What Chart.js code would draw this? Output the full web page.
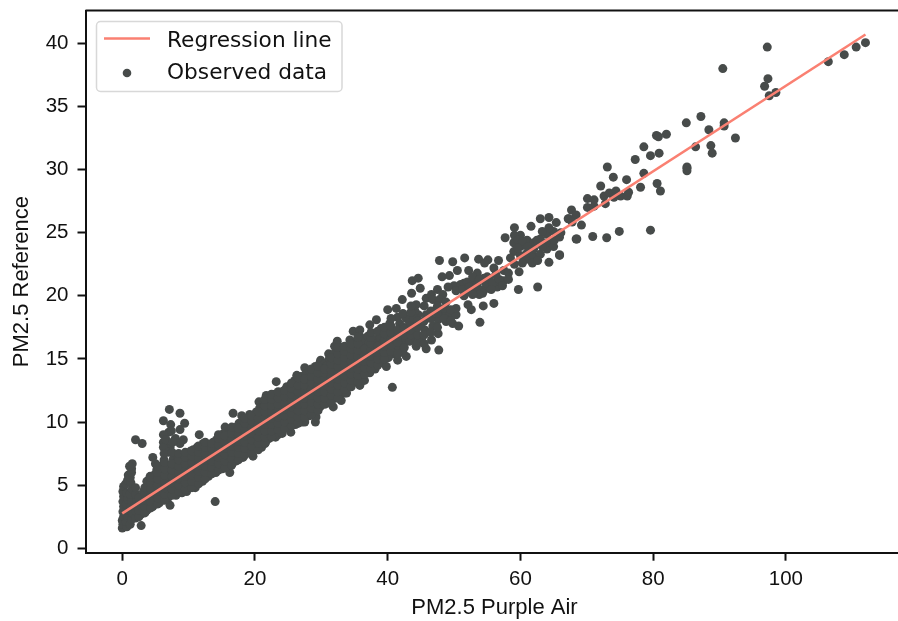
<!DOCTYPE html>
<html>
<head>
<meta charset="utf-8">
<title>PM2.5 regression</title>
<script src="https://cdn.jsdelivr.net/npm/chart.js@4"></script>
<style>
  html, body { margin: 0; padding: 0; background: #fff; overflow: hidden; }
  #wrap { width: 898px; height: 621px; overflow: hidden; }
</style>
</head>
<body>
<div id="wrap"><canvas id="grafico" width="908" height="621"></canvas></div>
<script>
var xTicks = [0, 20, 40, 60, 80, 100];
var yTicks = [0, 5, 10, 15, 20, 25, 30, 35, 40];

var regressionLine = [[0, 2.77], [112, 40.7]];

// left to right: [PM2.5 Purple Air, PM2.5 Reference]
var observedLow = [
  [0.0,1.6],[0.1,1.9],[0.0,2.2],[0.2,2.5],[0.1,2.9],[0.2,3.3],[0.1,3.7],[0.2,4.1],[0.1,4.5],[0.2,4.9],
  [0.7,1.7],[0.6,2.1],[0.8,2.5],[0.7,3.0],[0.6,3.5],[0.8,3.9],[0.7,4.4],[0.5,5.1],[0.8,5.4],[0.9,5.8],
  [1.2,1.9],[1.4,2.3],[1.5,2.8],[1.3,3.3],[1.4,3.8],[1.2,4.3],[1.5,4.7],[1.3,5.2],[1.2,5.6],[1.4,6.0],[1.4,6.3],[1.5,6.7],[1.1,6.5],
  [2.0,2.4],[2.1,2.9],[1.9,3.4],[2.2,3.8],[2.0,4.3],[2.0,4.8],[2.85,1.8],[2.0,8.6],[3.0,8.3],
  [2.8,2.7],[3.0,3.2],[3.1,3.7],[2.9,4.1],[3.2,4.5],
  [3.7,3.0],[3.8,3.5],[4.0,4.0],[3.8,4.5],[4.0,5.0],[3.7,5.3],[4.2,5.7],
  [4.6,3.3],[4.8,3.8],[5.0,4.3],[4.7,4.8],[5.0,5.3],[4.8,5.8],[5.2,6.2],[4.6,7.2],[5.0,6.7],
  [5.6,3.6],[5.8,4.1],[6.0,4.6],[5.7,5.1],[6.1,5.6],[5.8,6.1],[6.1,6.6],[6.3,7.0],
  [6.2,10.1],[7.1,11.0],[8.7,10.7],[7.3,9.8],[9.4,9.9],[8.7,9.4],[7.0,9.2],[6.2,9.0],[6.2,8.4],[8.0,8.7],
  [9.2,8.6],[8.7,8.3],[7.2,8.0],[6.2,8.0],[6.6,8.6],[7.6,8.4],[7.4,9.3],[6.9,7.6],[6.3,7.5],
  [7.2,3.4],[6.9,4.0],[7.1,4.5],[6.8,5.0],[7.2,5.5],[6.9,6.0],[7.1,6.5],[7.7,7.1],
  [8.1,4.2],[7.9,4.7],[8.2,5.2],[7.8,5.7],[8.1,6.2],[7.9,6.7],[8.2,7.4],[8.7,7.0],
  [9.0,4.4],[9.2,4.9],[8.9,5.4],[9.2,5.9],[8.9,6.4],[9.1,6.9],[9.3,7.4],
  [9.7,4.5],[10.1,5.0],[9.9,5.5],[10.2,6.0],[9.8,6.5],[10.1,7.0],[9.9,7.5],[10.3,7.7],
  [11.0,4.8],[11.1,5.4],[10.9,5.9],[11.2,6.4],[10.9,6.9],[11.1,7.4],[10.7,7.8],[11.6,9.0],[11.3,8.0],
  [12.1,5.3],[11.9,5.8],[12.2,6.3],[11.9,6.8],[12.1,7.3],[11.9,7.8],[12.2,8.3],
  [13.0,5.7],[13.1,6.2],[12.9,6.7],[13.2,7.2],[12.9,7.7],[13.1,8.2],[13.7,8.4],[14.0,3.7],
  [14.1,6.0],[13.9,6.5],[14.2,7.0],[13.9,7.5],[14.1,8.0],[14.2,8.6],
  [15.1,6.3],[14.9,6.8],[15.2,7.3],[14.9,7.8],[15.1,8.3],[14.9,8.8],[15.5,9.6],[15.3,9.1],
  [16.2,6.0],[16.0,6.6],[16.1,7.1],[15.9,7.6],[16.2,8.1],[15.9,8.6],[16.1,9.1],[16.7,10.7],[16.4,9.5],
  [17.1,6.9],[16.9,7.4],[17.2,7.9],[16.9,8.4],[17.1,8.9],[16.9,9.4],[17.2,9.6],[17.6,9.9],
  [18.2,7.2],[18.0,7.7],[18.1,8.2],[17.9,8.7],[18.2,9.2],[17.9,9.7],[18.2,10.1],[18.0,10.5],
  [18.8,8.0],[19.1,7.6],[19.0,8.5],[19.2,9.0],[18.9,9.5],[19.1,10.0],[19.2,10.6]
];

var observedMid = [
  [19.7,7.3],[20.1,7.9],[19.9,8.4],[20.2,8.9],[19.9,9.4],[20.1,9.9],[19.9,10.4],[20.2,10.8],[20.6,11.6],[20.7,11.1],
  [21.0,8.0],[21.1,8.6],[20.9,9.1],[21.2,9.6],[20.9,10.1],[21.1,10.6],[21.7,12.1],[21.3,11.2],
  [21.6,8.4],[22.1,8.7],[21.9,9.2],[22.2,9.7],[21.9,10.2],[22.1,10.7],[21.9,11.2],[22.2,11.7],
  [23.1,8.8],[23.5,9.0],[22.9,9.4],[23.2,9.9],[22.9,10.4],[23.1,10.9],[22.9,11.4],[23.2,11.9],[23.2,13.2],[23.0,12.2],
  [24.1,9.1],[23.9,9.7],[24.2,10.2],[23.9,10.7],[24.1,11.2],[23.9,11.7],[24.2,12.2],[24.8,12.8],[24.4,12.5],
  [25.4,9.2],[25.0,9.6],[25.1,10.1],[24.9,10.6],[25.2,11.1],[24.9,11.6],[25.1,12.1],[25.3,12.6],[25.6,13.0],
  [26.1,9.8],[25.9,10.3],[26.2,10.8],[25.9,11.3],[26.1,11.8],[25.9,12.3],[26.2,12.8],[26.3,13.7],[26.0,13.3],
  [27.1,10.0],[27.5,10.0],[26.9,10.6],[27.2,11.1],[26.9,11.6],[27.1,12.1],[26.9,12.6],[27.2,13.1],[26.9,13.6],[27.5,14.3],[27.6,13.8],
  [28.2,10.5],[27.9,11.0],[28.1,11.5],[27.9,12.0],[28.2,12.5],[27.9,13.0],[28.1,13.5],[28.2,14.1],[28.3,11.1],[28.8,13.9],
  [29.1,10.0],[29.2,10.4],[29.0,10.9],[29.2,11.4],[28.9,11.9],[29.1,12.4],[28.9,12.9],[29.2,13.4],[28.9,13.9],[29.1,14.4],[29.9,14.9],[29.8,14.7],
  [29.8,11.2],[30.1,11.7],[29.9,12.2],[30.2,12.7],[29.9,13.2],[30.1,13.7],[29.9,14.2],[30.5,14.6],
  [31.0,12.0],[31.1,11.5],[30.9,12.5],[31.2,13.0],[30.9,13.5],[31.1,14.0],[30.9,14.5],[31.1,15.4],[31.2,15.0],
  [31.8,11.2],[32.1,11.9],[31.9,12.4],[32.2,12.9],[31.9,13.4],[32.1,13.9],[31.9,14.4],[32.2,14.9],[31.9,15.4],[32.0,16.0],[32.4,16.4],
  [33.0,11.7],[33.5,12.3],[32.9,12.4],[33.2,12.9],[32.9,13.4],[33.1,13.9],[32.9,14.4],[33.2,14.9],[32.9,15.4],[33.1,15.9],
  [33.8,12.3],[34.1,12.9],[33.9,13.4],[34.2,13.9],[33.9,14.4],[34.1,14.9],[33.9,15.4],[34.2,15.9],[34.3,16.5],[34.8,17.2],
  [34.8,13.1],[35.1,13.5],[34.9,14.0],[35.2,14.5],[34.9,15.0],[35.1,15.5],[34.9,16.0],[35.0,16.2],[35.8,17.3],[35.8,16.8],[35.8,12.9],
  [36.5,13.3],[36.1,13.8],[35.9,14.3],[36.2,14.8],[35.9,15.3],[36.1,15.8],[36.5,16.4],
  [37.3,13.9],[37.1,14.4],[36.9,14.9],[37.2,15.4],[36.9,15.9],[37.0,16.8],[37.3,17.7],[37.2,16.3],
  [38.1,14.2],[37.9,14.7],[38.2,15.2],[37.9,15.7],[38.1,16.2],[38.5,16.6],[38.3,18.1],
  [39.3,14.7],[39.8,14.4],[39.1,15.2],[38.9,15.7],[39.2,16.2],[39.0,17.4],[39.3,17.0],[38.9,16.7],
  [40.8,15.4],[40.1,15.1],[39.9,15.7],[40.2,16.2],[39.9,16.7],[40.0,17.2],[40.3,17.8],[40.0,18.9],[40.7,12.75],
  [41.5,14.9],[41.8,16.0],[41.1,15.9],[41.3,16.5],[41.1,17.0],[41.8,17.8],[41.3,19.0],[41.5,18.3],
  [42.8,15.2],[42.3,15.5],[42.8,16.5],[42.2,16.4],[42.7,17.0],[42.3,17.5],[43.3,17.8],[42.8,18.2],[42.3,18.6],[42.2,19.7],
  [43.8,17.0],[43.3,16.4],[44.3,16.0],[44.1,16.7],[44.0,17.4],[44.6,18.5],[44.1,18.8],[44.3,19.3],[43.6,20.2],[44.9,20.6],[43.7,21.2],[44.6,21.4],[43.9,18.2],
  [45.1,16.6],[45.8,15.8],[45.6,17.3],[45.1,17.8],[45.8,18.5],[45.8,19.8],[46.6,20.1],[46.8,19.7],[47.5,20.5],[48.3,20.1],[47.8,19.7],[48.8,19.5],
  [46.6,16.5],[46.8,17.6],[47.6,17.0],[47.7,15.7],[47.6,18.1],[47.3,18.9],[48.3,18.6],[48.8,17.96],[49.3,18.5],[49.8,17.8],[50.7,17.6],[50.3,18.5],[50.3,19.0]
];

var observedHigh = [
  [47.8,22.8],[49.8,22.7],[51.6,23.0],[53.7,22.9],[55.1,22.85],[56.7,22.8],[54.6,22.6],[56.0,22.2],[52.2,22.0],[50.5,22.0],[49.3,21.6],[48.2,21.5],
  [52.8,21.5],[53.8,21.3],[54.8,21.0],[55.8,21.0],[56.8,21.3],[56.3,21.7],[57.3,20.8],
  [49.1,20.7],[50.3,20.4],[51.3,20.5],[52.3,20.7],[53.3,20.5],[54.3,20.2],[55.6,20.5],[53.8,20.1],[52.8,20.1],
  [52.1,19.3],[52.6,18.9],[54.4,19.2],[56.0,19.4],[53.9,17.9],
  [59.1,25.4],[59.1,24.8],[57.7,24.6],[59.6,24.4],[60.3,24.3],[61.6,25.5],[63.0,26.1],[64.3,26.2],[65.4,25.8],[64.3,25.4],[63.3,25.1],[62.5,24.4],[65.1,24.4],
  [59.6,23.8],[61.1,23.9],[63.3,23.9],[58.5,23.0],[59.1,22.5],[60.3,22.6],[61.8,22.6],[62.6,22.8],[64.3,22.65],[65.9,23.25],[59.8,21.9],[58.2,21.8],[58.2,21.3],[59.7,20.5],[62.6,20.7],
  [65.9,24.65],[65.9,23.2],[66.1,25.0],[67.2,26.1],[67.7,26.8],[68.4,26.4],[67.3,26.1],[67.8,25.85],[69.2,25.6],[68.4,24.5],[68.5,24.5],[70.9,24.7],[73.0,24.6],[74.9,25.1],[79.6,25.2],
  [70.1,27.7],[71.1,27.6],[70.1,27.0],[71.1,27.1],[72.1,28.7],[72.6,27.9],[72.8,27.3],[73.4,28.15],[74.4,28.3],[74.1,27.8],[75.1,27.9],[76.1,27.9],[76.3,28.2],[73.1,30.2],[74.0,29.4],[76.0,29.2],
  [77.3,30.8],[78.6,31.8],[78.6,29.7],[78.1,28.6],[79.6,31.1],[80.5,32.7],[80.8,32.6],[80.9,31.3],[80.6,28.9],[81.1,28.3],[82.0,32.8],
  [85.0,33.7],[85.1,30.2],[85.1,30.1],[85.1,29.9],[86.4,31.8],[87.2,34.2],[88.4,33.15],[88.7,31.9],[88.9,31.3],[90.5,38.0],[90.7,33.7],[90.7,33.45],[92.4,32.5],
  [96.8,36.6],[97.2,39.7],[97.3,37.2],[97.5,35.85],[98.5,36.1],[106.4,38.55],[108.8,39.1],[110.6,39.7],[112.0,40.05]
];

// the solid part of the cloud, estimated column by column: [x, [y, y, ...]]
var observedDense = [
  [2.5,[2.5,3.0,3.5,4.0]],
  [3.4,[2.8,3.3,3.8,4.3,4.8]],
  [4.3,[3.2,3.7,4.2,4.7,5.2,5.6]],
  [5.3,[3.5,4.0,4.5,5.0,5.5,6.0,6.5]],
  [6.4,[3.8,4.3,4.8,5.3,5.8,6.3,6.8]],
  [7.5,[4.2,4.7,5.2,5.7,6.2,6.7,7.6]],
  [8.5,[4.5,5.0,5.5,6.0,6.5,7.0,7.5]],
  [9.5,[4.7,5.2,5.7,6.2,6.7,7.2,7.6]],
  [10.5,[4.8,5.3,5.8,6.3,6.8,7.3,7.7]],
  [11.5,[5.1,5.6,6.1,6.6,7.1,7.6,8.1]],
  [12.5,[5.5,6.0,6.5,7.0,7.5,8.0,8.4]],
  [13.5,[5.9,6.4,6.9,7.4,7.9,8.3]],
  [14.5,[6.2,6.7,7.2,7.7,8.2,8.7,9.0]],
  [15.5,[6.4,6.9,7.4,7.9,8.4,8.9]],
  [16.5,[6.6,7.1,7.6,8.1,8.6,9.1,9.6]],
  [17.5,[7.0,7.5,8.0,8.5,9.0,9.5]],
  [18.5,[7.4,7.9,8.4,8.9,9.4,9.9,10.3]],
  [19.5,[7.6,8.1,8.6,9.1,9.6,10.1,10.5]],
  [20.5,[7.8,8.3,8.8,9.3,9.8,10.3,10.8]],
  [21.5,[8.3,8.8,9.3,9.8,10.3,10.8,11.3,11.8]],
  [22.5,[8.8,9.3,9.8,10.3,10.8,11.3,11.8,12.2]],
  [23.5,[9.4,9.9,10.4,10.9,11.4,11.9,12.4]],
  [24.5,[9.5,10.0,10.5,11.0,11.5,12.0,12.5]],
  [25.5,[9.7,10.2,10.7,11.2,11.7,12.2,12.7,13.1]],
  [26.5,[9.9,10.4,10.9,11.4,11.9,12.4,12.9,13.5]],
  [27.5,[10.4,10.9,11.4,11.9,12.4,12.9,13.4]],
  [28.5,[10.6,11.1,11.6,12.1,12.6,13.1,13.6,14.2]],
  [29.5,[10.9,11.4,11.9,12.4,12.9,13.4,13.9,14.4]],
  [30.5,[11.4,11.9,12.4,12.9,13.4,13.9,14.2]],
  [31.5,[11.6,12.1,12.6,13.1,13.6,14.1,14.6,15.1]],
  [32.5,[11.9,12.4,12.9,13.4,13.9,14.4,14.9,15.4,15.9]],
  [33.5,[12.6,13.1,13.6,14.1,14.6,15.1,15.6,16.0]],
  [34.5,[12.8,13.3,13.8,14.3,14.8,15.3,15.8,16.2]],
  [35.5,[13.2,13.7,14.2,14.7,15.2,15.7,16.2,16.7]],
  [36.5,[13.8,14.3,14.8,15.3,15.8]],
  [37.5,[14.2,14.7,15.2,15.7,16.2,16.7,17.1]],
  [38.5,[14.5,15.0,15.5,16.0,17.2]],
  [39.5,[15.0,15.5,16.0,16.5,17.0,17.5]],
  [40.5,[15.6,16.1,16.6,17.1,17.6,18.2]],
  [41.5,[15.4,16.3,16.8,17.3]],
  [42.5,[15.9,16.9,17.4]],
  [43.5,[16.9,17.3,18.7,19.2]],
  [44.5,[16.3,16.9,17.5,18.0]],
  [45.5,[16.2,16.9,18.0,19.2]],
  [46.5,[17.1,18.2,18.8]],
  [47.5,[17.5,18.6,19.2]],
  [48.5,[18.2,19.0]],
  [49.5,[18.0,18.9]],
  [50.0,[20.8]],
  [51.0,[20.9]],
  [51.5,[20.0,21.0]],
  [52.0,[20.3,21.1]],
  [53.0,[21.0,20.8]],
  [53.5,[20.9,21.8]],
  [54.5,[20.5,21.4]],
  [55.0,[20.6,21.5]],
  [55.3,[20.7,21.4]],
  [56.5,[20.7,21.2]],
  [57.5,[21.2,22.0]],
  [59.0,[23.5,24.2]],
  [60.0,[23.2,23.9,24.8]],
  [61.0,[22.9,23.4,24.4]],
  [62.0,[23.1,23.7,24.2]],
  [63.0,[23.3,24.5]],
  [64.0,[23.7,24.2,24.9]],
  [65.0,[23.9,25.1]]
];

var expandDense = function(columns) {
    var pairs = [];
    columns.forEach(function(col) {
        col[1].forEach(function(y) { pairs.push([col[0], y]); });
    });
    return pairs;
};

var observedData = observedLow.concat(observedMid, expandDense(observedDense), observedHigh);

var LINE_COLOR = '#fa8072';
var DOT_COLOR = '#474b4a';
var INK = '#111111';

var toPoints = function(pairs) {
    return pairs.map(function(p) { return {x: p[0], y: p[1]}; });
};

// matplotlib-like legend inside the axes, plus the top spine
var legendInset = {
    id: 'legendInset',
    afterDraw: function(chart) {
        var ctx = chart.ctx;
        var area = chart.chartArea;
        var sets = chart.data.datasets;

        ctx.save();
        ctx.strokeStyle = INK;
        ctx.lineWidth = 2;
        ctx.beginPath();
        ctx.moveTo(area.left, area.top);
        ctx.lineTo(area.right, area.top);
        ctx.stroke();

        ctx.fillStyle = 'rgba(255,255,255,0.8)';
        ctx.strokeStyle = '#d8d8d8';
        ctx.lineWidth = 1.5;
        ctx.beginPath();
        ctx.roundRect(96.5, 21.5, 245.5, 70, 4);
        ctx.fill();
        ctx.stroke();

        ctx.strokeStyle = LINE_COLOR;
        ctx.lineWidth = 2.4;
        ctx.beginPath();
        ctx.moveTo(104, 38.5);
        ctx.lineTo(150, 38.5);
        ctx.stroke();

        ctx.fillStyle = DOT_COLOR;
        ctx.beginPath();
        ctx.arc(127, 73, 4.3, 0, Math.PI * 2);
        ctx.fill();

        ctx.fillStyle = INK;
        ctx.font = '21.7px "DejaVu Sans"';
        ctx.textBaseline = 'alphabetic';
        ctx.fillText(sets[0].label, 167, 47);
        ctx.fillText(sets[1].label, 167, 79);
        ctx.restore();
    }
};

var eixo = function(titulo, min, max, ticks, tickPadding, fit) {
    return {
        type: 'linear',
        min: min,
        max: max,
        afterBuildTicks: function(axis) {
            axis.ticks = ticks.map(function(v) { return {value: v}; });
        },
        afterFit: function(axis) {
            fit(axis);
            axis.paddingTop = 0;
            axis.paddingBottom = 0;
            axis.paddingLeft = 0;
            axis.paddingRight = 0;
        },
        title: {
            display: true,
            text: titulo,
            color: INK,
            font: {family: '"Liberation Sans"', size: 22},
            padding: {top: 9, bottom: 0}
        },
        ticks: {
            color: INK,
            font: {family: '"Liberation Sans"', size: 20.5},
            padding: tickPadding,
            maxRotation: 0,
            autoSkip: false
        },
        grid: {
            drawOnChartArea: false,
            drawTicks: true,
            tickLength: 8,
            tickWidth: 2,
            tickColor: INK
        },
        border: {color: INK, width: 2}
    };
};

new Chart(document.getElementById('grafico'), {
    type: 'scatter',
    data: {
        datasets: [{
            type: 'line',
            label: 'Regression line',
            data: toPoints(regressionLine),
            borderColor: LINE_COLOR,
            borderWidth: 2.6,
            pointRadius: 0,
            fill: false,
            order: 1
        }, {
            label: 'Observed data',
            data: toPoints(observedData),
            backgroundColor: DOT_COLOR,
            borderColor: DOT_COLOR,
            borderWidth: 0,
            pointRadius: 4.5,
            order: 2
        }]
    },
    options: {
        responsive: false,
        animation: false,
        layout: {padding: {top: 10.5, right: 0, left: 0, bottom: 0}},
        plugins: {legend: {display: false}, title: {display: false}, tooltip: {enabled: false}},
        scales: {
            x: eixo('PM2.5 Purple Air', -5.54, 117.73, xTicks, 6, function(axis) { axis.height = 68.3; }),
            y: eixo('PM2.5 Reference', -0.35, 42.6, yTicks, 9, function(axis) { axis.width = 85.5; })
        }
    },
    plugins: [legendInset]
});
</script>
</body>
</html>
